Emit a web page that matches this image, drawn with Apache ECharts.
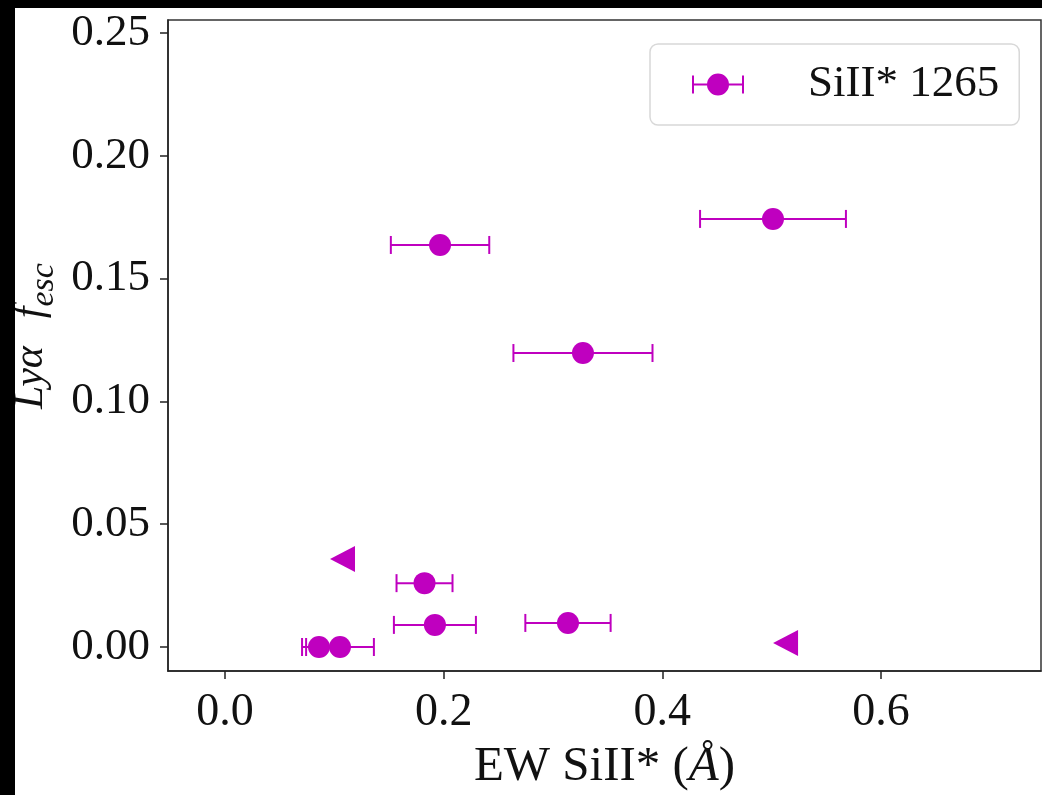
<!DOCTYPE html>
<html>
<head>
<meta charset="utf-8">
<script src="https://cdn.jsdelivr.net/npm/echarts@6/dist/echarts.min.js"></script>
<style>
  html, body { margin: 0; padding: 0; background: #000; }
  #chart { position: absolute; left: 15px; top: 8px; width: 1027px; height: 787px; background: #fff; }
</style>
</head>
<body>
<div id="chart"></div>
<script>
// SiII* 1265 detections: [EW, f_esc, xerr]
const ewValues = [0.1967, 0.5012, 0.3274, 0.1825, 0.192, 0.3137, 0.086, 0.1052]
const fescValues = [0.1637, 0.1743, 0.1197, 0.026, 0.009, 0.0098, 0.0, 0.0]
const ewErrors = [0.045, 0.0667, 0.0636, 0.0256, 0.0375, 0.039, 0.0155, 0.031]

// upper limits (left-pointing triangles)
const limitEw = [0.1075, 0.5127]
const limitFesc = [0.0358, 0.0016]

const xTicks = [0.0, 0.2, 0.4, 0.6]
const yTicks = [0.0, 0.05, 0.1, 0.15, 0.2, 0.25]

const seriesName = 'SiII* 1265'
const magenta = '#bf00bf'
const serif = "'Liberation Serif', 'DejaVu Serif', serif"

const points = ewValues.map((x, i) => [x, fescValues[i], ewErrors[i]])
const limits = limitEw.map((x, i) => [x, limitFesc[i]])

const chart = echarts.init(document.getElementById('chart'))

const renderErrorBar = (params, api) => {
  const x = api.value(0)
  const y = api.value(1)
  const e = api.value(2)
  const lo = api.coord([x - e, y])
  const hi = api.coord([x + e, y])
  const cap = 9
  const style = { stroke: magenta, lineWidth: 2 }
  return {
    type: 'group',
    children: [
      { type: 'line', shape: { x1: lo[0], y1: lo[1], x2: hi[0], y2: hi[1] }, style },
      { type: 'line', shape: { x1: lo[0], y1: lo[1] - cap, x2: lo[0], y2: lo[1] + cap }, style },
      { type: 'line', shape: { x1: hi[0], y1: hi[1] - cap, x2: hi[0], y2: hi[1] + cap }, style },
    ],
  }
}

const axisCommon = {
  axisLine: { show: true, onZero: false, lineStyle: { color: '#222', width: 1.5 } },
  axisTick: { show: true, inside: false, length: 8, lineStyle: { color: '#222', width: 1.5 } },
  splitLine: { show: false },
}

chart.setOption({
  animation: false,
  grid: {
    left: 153,
    top: 12,
    right: 1,
    bottom: 124,
    containLabel: false,
    outerBoundsMode: 'none',
    show: true,
    borderColor: '#333',
    borderWidth: 1.5,
  },
  // y axis title (rotated, with subscript)
  graphic: [
    {
      type: 'text',
      x: 16,
      y: 328,
      rotation: Math.PI / 2,
      style: {
        text: '{m|Lyα}{f|f}{s|esc}',
        align: 'center',
        verticalAlign: 'middle',
        fill: '#111',
        rich: {
          m: { fontFamily: serif, fontSize: 42, fontStyle: 'italic', color: '#111', lineHeight: 60 },
          f: { fontFamily: serif, fontSize: 42, fontStyle: 'italic', color: '#111', lineHeight: 60, padding: [0, 0, 0, 28] },
          s: { fontFamily: serif, fontSize: 34, fontStyle: 'italic', color: '#111', lineHeight: 36, verticalAlign: 'bottom' },
        },
      },
    },
  ],
  legend: {
    left: 635,
    top: 36,
    padding: [18, 20, 18, 42],
    borderColor: '#d8d8d8',
    borderWidth: 1.5,
    borderRadius: 8,
    backgroundColor: '#fff',
    itemWidth: 52,
    itemHeight: 22,
    textStyle: { fontFamily: serif, fontSize: 45, color: '#111', padding: [0, 0, 0, 59] },
    data: [
      {
        name: seriesName,
        icon: 'path://M0,10H52V12H0Z M0,2H2V20H0Z M50,2H52V20H50Z M15,11A11,11 0 1,1 37,11A11,11 0 1,1 15,11Z',
        itemStyle: { color: magenta },
      },
    ],
  },
  xAxis: {
    type: 'value',
    min: -0.0521,
    max: 0.7463,
    ...axisCommon,
    axisTick: { ...axisCommon.axisTick, customValues: xTicks },
    axisLabel: {
      customValues: xTicks,
      formatter: v => v.toFixed(1),
      fontFamily: serif,
      fontSize: 46,
      color: '#111',
      margin: 19,
    },
    name: 'EW SiII* ({i|Å})',
    nameLocation: 'middle',
    nameGap: 72,
    nameTextStyle: {
      fontFamily: serif,
      fontSize: 49,
      color: '#111',
      rich: { i: { fontFamily: serif, fontSize: 49, fontStyle: 'italic', color: '#111' } },
    },
  },
  yAxis: {
    type: 'value',
    min: -0.00977,
    max: 0.2553,
    ...axisCommon,
    axisTick: { ...axisCommon.axisTick, customValues: yTicks },
    axisLabel: {
      customValues: yTicks,
      formatter: v => v.toFixed(2),
      fontFamily: serif,
      fontSize: 45,
      color: '#111',
      margin: 18,
    },
  },
  series: [
    {
      name: seriesName,
      type: 'custom',
      renderItem: renderErrorBar,
      data: points,
      encode: { x: 0, y: 1 },
      z: 2,
    },
    {
      name: seriesName,
      type: 'scatter',
      data: points,
      symbol: 'circle',
      symbolSize: 22,
      itemStyle: { color: magenta, opacity: 1 },
      z: 3,
    },
    {
      name: 'limits',
      type: 'scatter',
      data: limits,
      symbol: 'triangle',
      symbolRotate: 90,
      symbolSize: [26, 25],
      itemStyle: { color: magenta, opacity: 1 },
      z: 3,
    },
  ],
})
</script>
</body>
</html>
